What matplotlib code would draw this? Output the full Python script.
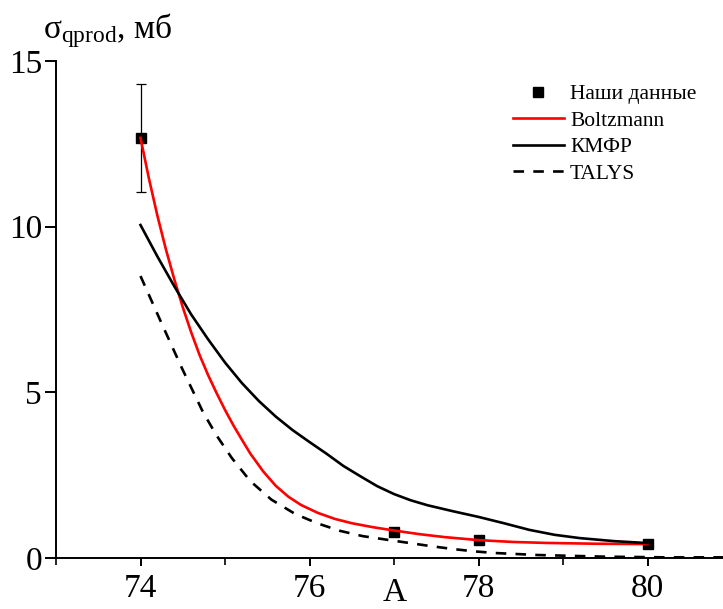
import matplotlib
matplotlib.use('Agg')
import matplotlib.pyplot as plt

plt.rcParams['font.family'] = ['Liberation Serif', 'DejaVu Serif']
plt.rcParams['mathtext.fontset'] = 'custom'
plt.rcParams['mathtext.rm'] = 'Liberation Serif'
plt.rcParams['mathtext.it'] = 'Liberation Serif:italic'

# experimental points
exp_a = [74, 77, 78, 80]
exp_sigma = [12.68, 0.78, 0.54, 0.42]
exp_err = [1.62, 0, 0, 0]

# Boltzmann fit
boltz_a = [74.0, 74.1, 74.2, 74.3, 74.4, 74.5, 74.6, 74.7, 74.8, 74.9,
           75.0, 75.1, 75.2, 75.3, 75.45, 75.6, 75.75, 75.9, 76.1, 76.3,
           76.5, 76.75, 77.0, 77.3, 77.6, 78.0, 78.4, 78.8, 79.4, 80.0]
boltz_sigma = [12.68, 11.45, 10.33, 9.32, 8.41, 7.57, 6.81, 6.12, 5.52, 4.98,
               4.47, 4.0, 3.57, 3.15, 2.62, 2.18, 1.85, 1.6, 1.36, 1.18,
               1.05, 0.93, 0.83, 0.72, 0.63, 0.54, 0.485, 0.455, 0.43, 0.42]

# KMFP calculation
kmfp_a = [74.0, 74.2, 74.4, 74.6, 74.8, 75.0, 75.2, 75.4, 75.6, 75.8,
          76.0, 76.2, 76.4, 76.6, 76.8, 77.0, 77.2, 77.4, 77.7, 78.0,
          78.3, 78.6, 78.9, 79.2, 79.6, 80.0]
kmfp_sigma = [10.05, 9.1, 8.2, 7.35, 6.6, 5.9, 5.28, 4.74, 4.27, 3.86,
              3.5, 3.15, 2.78, 2.47, 2.17, 1.93, 1.74, 1.59, 1.41, 1.24,
              1.05, 0.85, 0.70, 0.60, 0.51, 0.45]

# TALYS calculation
talys_a = [74.0, 74.25, 74.49, 74.74, 74.9, 75.08, 75.3, 75.55, 75.83,
           76.09, 76.36, 76.63, 76.92, 77.19, 77.43, 77.7, 77.95, 78.2,
           78.7, 79.5, 80.2, 80.9]
talys_sigma = [8.51, 7.08, 5.73, 4.40, 3.70, 3.02, 2.32, 1.76, 1.33,
               1.05, 0.82, 0.66, 0.55, 0.45, 0.36, 0.27, 0.20, 0.15,
               0.09, 0.04, 0.02, 0.02]

fig = plt.figure(figsize=(7.23, 6.09), dpi=100)
ax = fig.add_axes([56 / 723, 51 / 609, 667 / 723, 497 / 609])

ax.errorbar(exp_a, exp_sigma, yerr=exp_err, fmt='none', ecolor='black',
            elinewidth=0.9, capsize=3.6, capthick=0.9, zorder=2)
h_exp, = ax.plot(exp_a, exp_sigma, 's', color='black', markersize=7,
                 ls='none', label='Наши данные', zorder=2)
h_b, = ax.plot(boltz_a, boltz_sigma, color='red', lw=1.9, label='Boltzmann',
               zorder=3)
h_k, = ax.plot(kmfp_a, kmfp_sigma, color='black', lw=1.9, label='КМФР',
               zorder=3)
h_t, = ax.plot(talys_a, talys_sigma, color='black', lw=1.9,
               ls=(0, (4, 3.5)), label='TALYS', zorder=3)

ax.set_xlim(73, 73 + 667 / 84.5)
ax.set_ylim(0, 15)
ax.set_xticks([74, 76, 78, 80])
ax.set_xticks([73, 75, 77, 79], minor=True)
ax.set_yticks([0, 5, 10, 15])

for s in ['top', 'right']:
    ax.spines[s].set_visible(False)
for s in ['left', 'bottom']:
    ax.spines[s].set_linewidth(1.4)

ax.tick_params(axis='both', which='major', labelsize=24, width=1.4,
               direction='out')
ax.tick_params(axis='x', which='major', length=6, pad=5)
ax.tick_params(axis='x', which='minor', length=5, width=1.2)
ax.tick_params(axis='y', which='major', length=8, pad=2)

fig.text(43 / 723, 1 - 38 / 609, r'$\mathrm{σ}_{\mathrm{qprod}}$, мб',
         fontsize=24, ha='left', va='baseline')
fig.text(395 / 723, 0.002, 'A', fontsize=24, ha='center', va='bottom')

ax.legend(handles=[h_exp, h_b, h_k, h_t], loc='upper left',
          bbox_to_anchor=(513 / 723, 1 - 84 / 609),
          bbox_transform=fig.transFigure, frameon=False, fontsize=15.5,
          borderpad=0, borderaxespad=0, handlelength=2.35,
          handletextpad=0.3, labelspacing=0.3)

fig.savefig('out.png', dpi=100)
